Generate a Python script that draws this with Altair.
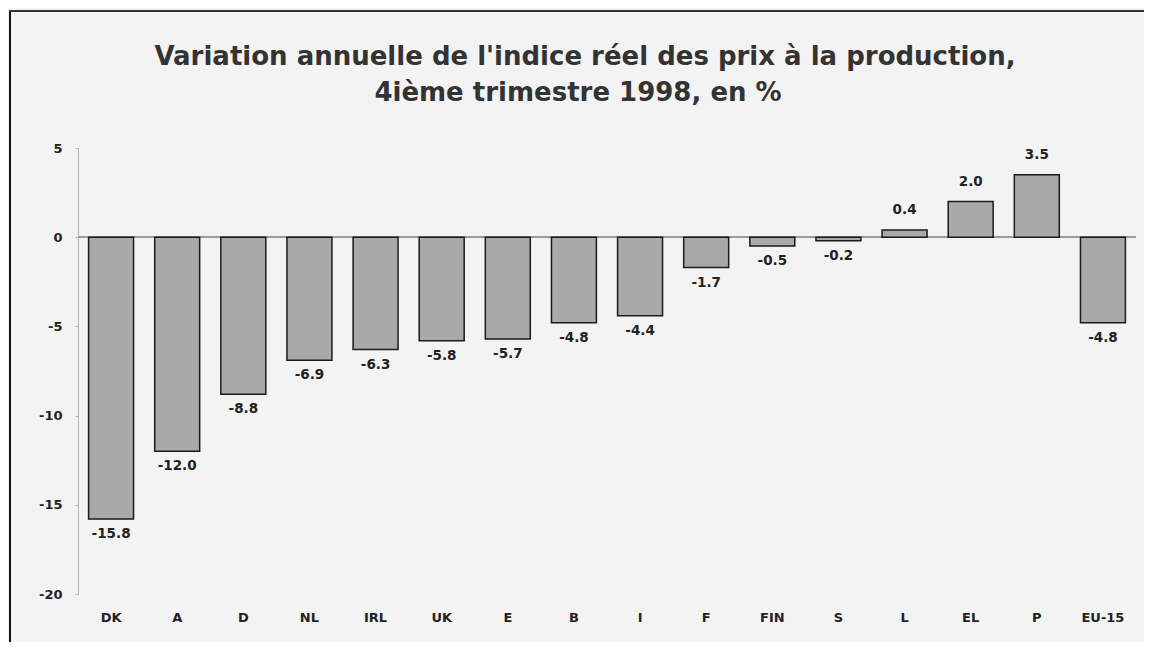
import altair as alt
import pandas as pd

countries = ["DK", "A", "D", "NL", "IRL", "UK", "E", "B", "I", "F", "FIN", "S", "L", "EL", "P", "EU-15"]
values = [-15.8, -12.0, -8.8, -6.9, -6.3, -5.8, -5.7, -4.8, -4.4, -1.7, -0.5, -0.2, 0.4, 2.0, 3.5, -4.8]
y_ticks = [5, 0, -5, -10, -15, -20]
title_lines = [
    "Variation annuelle de l'indice réel des prix à la production,",
    "4ième trimestre 1998, en %",
]

df = pd.DataFrame({"pays": countries, "valeur": values})
df["etiquette"] = [f"{v:.1f}" for v in values]

FONT = "DejaVu Sans"
TXT = "#222222"

x_enc = alt.X(
    "pays:N",
    sort=countries,
    title=None,
    scale=alt.Scale(paddingInner=0.32, paddingOuter=0.16),
    axis=alt.Axis(
        labelAngle=0, labelFont=FONT, labelFontSize=13, labelFontWeight="bold",
        labelColor=TXT, labelPadding=17, ticks=False, domain=False,
    ),
)
y_enc = alt.Y(
    "valeur:Q",
    title=None,
    scale=alt.Scale(domain=[-20, 5], nice=False, zero=True),
    axis=alt.Axis(
        values=y_ticks, grid=False, domainColor="#b5b5b5", domainWidth=1,
        tickColor="#b5b5b5", tickSize=3, labelPadding=13, labelFont=FONT,
        labelFontSize=13, labelFontWeight="bold", labelColor=TXT,
        labelExpr="'' + datum.value",
    ),
)

base = alt.Chart(df)

zero_line = base.mark_rule(color="#9a9a9a", strokeWidth=1).encode(y=alt.datum(0))

bars = base.mark_bar(fill="#a9a9a9", stroke="#1a1a1a", strokeWidth=1.5).encode(
    x=x_enc, y=y_enc
)

neg_labels = base.transform_filter("datum.valeur < 0").mark_text(
    font=FONT, fontSize=13.5, fontWeight="bold", color=TXT, baseline="middle", dy=15
).encode(x=alt.X("pays:N", sort=countries), y=alt.Y("valeur:Q"), text="etiquette:N")

pos_labels = base.transform_filter("datum.valeur >= 0").mark_text(
    font=FONT, fontSize=13.5, fontWeight="bold", color=TXT, baseline="middle", dy=-20
).encode(x=alt.X("pays:N", sort=countries), y=alt.Y("valeur:Q"), text="etiquette:N")

title_df = pd.DataFrame({"ligne": title_lines})
title1 = alt.Chart(title_df).transform_filter(f"datum.ligne == {title_lines[0]!r}").mark_text(
    font=FONT, fontSize=26, fontWeight="bold", color="#333333", align="center", baseline="alphabetic"
).encode(x=alt.value(507), y=alt.value(-83), text="ligne:N")
title2 = alt.Chart(title_df).transform_filter(f"datum.ligne == {title_lines[1]!r}").mark_text(
    font=FONT, fontSize=26, fontWeight="bold", color="#333333", align="center", baseline="alphabetic"
).encode(x=alt.value(500), y=alt.value(-47), text="ligne:N")

frame_df = pd.DataFrame({"k": [0]})
left_border = alt.Chart(frame_df).mark_rule(color="#111", strokeWidth=2).encode(
    x=alt.value(-68), y=alt.value(-137), y2=alt.value(494)
)
top_border = alt.Chart(frame_df).mark_rule(color="#333", strokeWidth=2).encode(
    x=alt.value(-69), x2=alt.value(1070), y=alt.value(-137)
)

chart = (
    alt.layer(zero_line, bars, neg_labels, pos_labels, title1, title2, left_border, top_border)
    .properties(
        width=1058,
        height=446,
        padding={"left": 70, "top": 140, "right": 8, "bottom": 48},
        autosize=alt.AutoSizeParams(type="none"),
    )
    .configure(background="#f3f3f3")
    .configure_view(stroke=None)
)

chart.save("out.html", embed_options={"renderer": "svg", "actions": False})
